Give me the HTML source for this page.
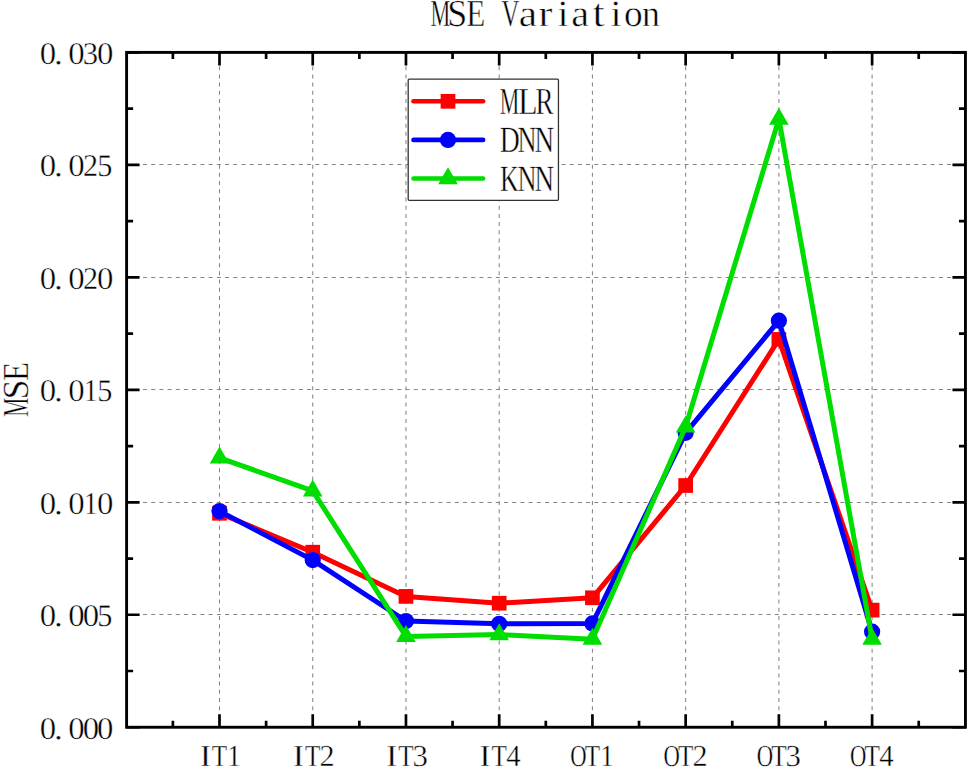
<!DOCTYPE html>
<html><head><meta charset="utf-8"><title>MSE Variation</title><style>html,body{margin:0;padding:0;background:#fff;overflow:hidden}svg{display:block;font-family:"Liberation Serif",serif}</style>
</head><body>
<svg width="969" height="769" viewBox="0 0 969 769">
<rect width="969" height="769" fill="#fff"/>
<g stroke="#858585" stroke-width="1.05" stroke-dasharray="4 4.205" fill="none"><line x1="219.50" y1="52.40" x2="219.50" y2="727.25" stroke-dashoffset="-5.6"/><line x1="312.73" y1="52.40" x2="312.73" y2="727.25" stroke-dashoffset="-5.6"/><line x1="405.96" y1="52.40" x2="405.96" y2="727.25" stroke-dashoffset="-5.6"/><line x1="499.19" y1="52.40" x2="499.19" y2="727.25" stroke-dashoffset="-5.6"/><line x1="592.42" y1="52.40" x2="592.42" y2="727.25" stroke-dashoffset="-5.6"/><line x1="685.65" y1="52.40" x2="685.65" y2="727.25" stroke-dashoffset="-5.6"/><line x1="778.88" y1="52.40" x2="778.88" y2="727.25" stroke-dashoffset="-5.6"/><line x1="872.11" y1="52.40" x2="872.11" y2="727.25" stroke-dashoffset="-5.6"/><line x1="126.60" y1="614.50" x2="965.45" y2="614.50" stroke-dashoffset="0"/><line x1="126.60" y1="502.50" x2="965.45" y2="502.50" stroke-dashoffset="0"/><line x1="126.60" y1="389.50" x2="965.45" y2="389.50" stroke-dashoffset="0"/><line x1="126.60" y1="277.50" x2="965.45" y2="277.50" stroke-dashoffset="0"/><line x1="126.60" y1="164.50" x2="965.45" y2="164.50" stroke-dashoffset="0"/></g>
<path d="M219.50,727.25V714.25M219.50,52.40V65.40M312.73,727.25V714.25M312.73,52.40V65.40M405.96,727.25V714.25M405.96,52.40V65.40M499.19,727.25V714.25M499.19,52.40V65.40M592.42,727.25V714.25M592.42,52.40V65.40M685.65,727.25V714.25M685.65,52.40V65.40M778.88,727.25V714.25M778.88,52.40V65.40M872.11,727.25V714.25M872.11,52.40V65.40M172.88,727.25V720.75M172.88,52.40V58.90M266.12,727.25V720.75M266.12,52.40V58.90M359.35,727.25V720.75M359.35,52.40V58.90M452.57,727.25V720.75M452.57,52.40V58.90M545.80,727.25V720.75M545.80,52.40V58.90M639.03,727.25V720.75M639.03,52.40V58.90M732.26,727.25V720.75M732.26,52.40V58.90M825.50,727.25V720.75M825.50,52.40V58.90M918.73,727.25V720.75M918.73,52.40V58.90M126.60,727.25H139.60M965.45,727.25H952.45M126.60,614.77H139.60M965.45,614.77H952.45M126.60,502.30H139.60M965.45,502.30H952.45M126.60,389.82H139.60M965.45,389.82H952.45M126.60,277.35H139.60M965.45,277.35H952.45M126.60,164.88H139.60M965.45,164.88H952.45M126.60,52.40H139.60M965.45,52.40H952.45M126.60,671.01H133.10M965.45,671.01H958.95M126.60,558.54H133.10M965.45,558.54H958.95M126.60,446.06H133.10M965.45,446.06H958.95M126.60,333.59H133.10M965.45,333.59H958.95M126.60,221.11H133.10M965.45,221.11H958.95M126.60,108.64H133.10M965.45,108.64H958.95" stroke="#000" stroke-width="2.7" fill="none"/>
<rect x="126.60" y="52.40" width="838.85" height="674.85" fill="none" stroke="#000" stroke-width="2.9"/>
<polyline points="219.50,513.30 312.73,552.20 405.96,596.40 499.19,603.20 592.42,597.80 685.65,485.50 778.88,339.40 872.11,610.10" fill="none" stroke="#ff0000" stroke-width="5" stroke-linejoin="round" stroke-linecap="round"/><rect x="212.15" y="505.95" width="14.70" height="14.70" fill="#ff0000"/><rect x="305.38" y="544.85" width="14.70" height="14.70" fill="#ff0000"/><rect x="398.61" y="589.05" width="14.70" height="14.70" fill="#ff0000"/><rect x="491.84" y="595.85" width="14.70" height="14.70" fill="#ff0000"/><rect x="585.07" y="590.45" width="14.70" height="14.70" fill="#ff0000"/><rect x="678.30" y="478.15" width="14.70" height="14.70" fill="#ff0000"/><rect x="771.53" y="332.05" width="14.70" height="14.70" fill="#ff0000"/><rect x="864.76" y="602.75" width="14.70" height="14.70" fill="#ff0000"/>
<polyline points="219.50,511.10 312.73,560.10 405.96,621.00 499.19,623.80 592.42,623.40 685.65,432.80 778.88,320.70 872.11,631.70" fill="none" stroke="#0000ff" stroke-width="5" stroke-linejoin="round" stroke-linecap="round"/><circle cx="219.50" cy="511.10" r="8.10" fill="#0000ff"/><circle cx="312.73" cy="560.10" r="8.10" fill="#0000ff"/><circle cx="405.96" cy="621.00" r="8.10" fill="#0000ff"/><circle cx="499.19" cy="623.80" r="8.10" fill="#0000ff"/><circle cx="592.42" cy="623.40" r="8.10" fill="#0000ff"/><circle cx="685.65" cy="432.80" r="8.10" fill="#0000ff"/><circle cx="778.88" cy="320.70" r="8.10" fill="#0000ff"/><circle cx="872.11" cy="631.70" r="8.10" fill="#0000ff"/>
<polyline points="219.50,457.80 312.73,490.90 405.96,636.40 499.19,634.60 592.42,639.20 685.65,426.80 778.88,119.00 872.11,639.20" fill="none" stroke="#00dd00" stroke-width="5" stroke-linejoin="round" stroke-linecap="round"/><path d="M219.50,446.47L229.30,463.47L209.70,463.47Z" fill="#00dd00"/><path d="M312.73,479.57L322.53,496.57L302.93,496.57Z" fill="#00dd00"/><path d="M405.96,625.07L415.76,642.07L396.16,642.07Z" fill="#00dd00"/><path d="M499.19,623.27L508.99,640.27L489.39,640.27Z" fill="#00dd00"/><path d="M592.42,627.87L602.22,644.87L582.62,644.87Z" fill="#00dd00"/><path d="M685.65,415.47L695.45,432.47L675.85,432.47Z" fill="#00dd00"/><path d="M778.88,107.67L788.68,124.67L769.08,124.67Z" fill="#00dd00"/><path d="M872.11,627.87L881.91,644.87L862.31,644.87Z" fill="#00dd00"/>
<rect x="408.2" y="79.05" width="150.25" height="121.3" fill="#fff" stroke="#333" stroke-width="1.3" rx="1"/>
<line x1="413.5" y1="101.3" x2="483.1" y2="101.3" stroke="#ff0000" stroke-width="4.6" stroke-linecap="round"/>
<rect x="440.65" y="93.95" width="14.70" height="14.70" fill="#ff0000"/>
<line x1="413.5" y1="139.9" x2="483.1" y2="139.9" stroke="#0000ff" stroke-width="4.6" stroke-linecap="round"/>
<circle cx="448.00" cy="139.90" r="8.10" fill="#0000ff"/>
<line x1="413.5" y1="178.5" x2="483.1" y2="178.5" stroke="#00dd00" stroke-width="4.6" stroke-linecap="round"/>
<path d="M448.00,167.17L457.80,184.17L438.20,184.17Z" fill="#00dd00"/>
<g font-family="Liberation Serif" font-size="100" text-rendering="geometricPrecision" fill="#000" stroke="#fff" stroke-width="1.3" style="vector-effect:non-scaling-stroke"><text transform="translate(39.75,738.60) scale(0.3280,0.3161)">0</text><text transform="translate(54.02,738.60) scale(0.3541,0.3161)">.</text><text transform="translate(68.35,738.60) scale(0.3280,0.3161)">0</text><text transform="translate(82.65,738.60) scale(0.3280,0.3161)">0</text><text transform="translate(96.95,738.60) scale(0.3280,0.3161)">0</text><text transform="translate(39.75,626.12) scale(0.3280,0.3161)">0</text><text transform="translate(54.02,626.12) scale(0.3541,0.3161)">.</text><text transform="translate(68.35,626.12) scale(0.3280,0.3161)">0</text><text transform="translate(82.65,626.12) scale(0.3280,0.3161)">0</text><text transform="translate(97.19,626.12) scale(0.3029,0.3161)">5</text><text transform="translate(39.75,513.65) scale(0.3280,0.3161)">0</text><text transform="translate(54.02,513.65) scale(0.3541,0.3161)">.</text><text transform="translate(68.35,513.65) scale(0.3280,0.3161)">0</text><text transform="translate(83.80,513.65) scale(0.2784,0.3161)">1</text><text transform="translate(96.95,513.65) scale(0.3280,0.3161)">0</text><text transform="translate(39.75,401.18) scale(0.3280,0.3161)">0</text><text transform="translate(54.02,401.18) scale(0.3541,0.3161)">.</text><text transform="translate(68.35,401.18) scale(0.3280,0.3161)">0</text><text transform="translate(83.80,401.18) scale(0.2784,0.3161)">1</text><text transform="translate(97.19,401.18) scale(0.3029,0.3161)">5</text><text transform="translate(39.75,288.70) scale(0.3280,0.3161)">0</text><text transform="translate(54.02,288.70) scale(0.3541,0.3161)">.</text><text transform="translate(68.35,288.70) scale(0.3280,0.3161)">0</text><text transform="translate(83.12,288.70) scale(0.3018,0.3161)">2</text><text transform="translate(96.95,288.70) scale(0.3280,0.3161)">0</text><text transform="translate(39.75,176.23) scale(0.3280,0.3161)">0</text><text transform="translate(54.02,176.23) scale(0.3541,0.3161)">.</text><text transform="translate(68.35,176.23) scale(0.3280,0.3161)">0</text><text transform="translate(83.12,176.23) scale(0.3018,0.3161)">2</text><text transform="translate(97.19,176.23) scale(0.3029,0.3161)">5</text><text transform="translate(39.75,63.75) scale(0.3280,0.3161)">0</text><text transform="translate(54.02,63.75) scale(0.3541,0.3161)">.</text><text transform="translate(68.35,63.75) scale(0.3280,0.3161)">0</text><text transform="translate(82.78,63.75) scale(0.3074,0.3161)">3</text><text transform="translate(96.95,63.75) scale(0.3280,0.3161)">0</text><text transform="translate(199.64,766.15) scale(0.3421,0.3054)">I</text><text transform="translate(211.80,766.15) scale(0.2517,0.3054)">T</text><text transform="translate(227.05,766.15) scale(0.2784,0.3054)">1</text><text transform="translate(292.87,766.15) scale(0.3421,0.3054)">I</text><text transform="translate(305.03,766.15) scale(0.2517,0.3054)">T</text><text transform="translate(319.60,766.15) scale(0.3018,0.3054)">2</text><text transform="translate(386.10,766.15) scale(0.3421,0.3054)">I</text><text transform="translate(398.26,766.15) scale(0.2517,0.3054)">T</text><text transform="translate(412.49,766.15) scale(0.3074,0.3054)">3</text><text transform="translate(479.33,766.15) scale(0.3421,0.3054)">I</text><text transform="translate(491.49,766.15) scale(0.2517,0.3054)">T</text><text transform="translate(506.23,766.15) scale(0.2883,0.3054)">4</text><text transform="translate(570.34,766.15) scale(0.2265,0.3054)">O</text><text transform="translate(584.72,766.15) scale(0.2517,0.3054)">T</text><text transform="translate(599.97,766.15) scale(0.2784,0.3054)">1</text><text transform="translate(663.57,766.15) scale(0.2265,0.3054)">O</text><text transform="translate(677.95,766.15) scale(0.2517,0.3054)">T</text><text transform="translate(692.52,766.15) scale(0.3018,0.3054)">2</text><text transform="translate(756.80,766.15) scale(0.2265,0.3054)">O</text><text transform="translate(771.18,766.15) scale(0.2517,0.3054)">T</text><text transform="translate(785.41,766.15) scale(0.3074,0.3054)">3</text><text transform="translate(850.03,766.15) scale(0.2265,0.3054)">O</text><text transform="translate(864.41,766.15) scale(0.2517,0.3054)">T</text><text transform="translate(879.15,766.15) scale(0.2883,0.3054)">4</text><text transform="translate(430.41,26.25) scale(0.2226,0.3833)">M</text><text transform="translate(447.35,26.25) scale(0.3581,0.3833)">S</text><text transform="translate(466.25,26.25) scale(0.3119,0.3833)">E</text><text transform="translate(501.57,26.25) scale(0.2458,0.3833)">V</text><text transform="translate(518.80,26.25) scale(0.4126,0.3751)">a</text><text transform="translate(538.40,26.25) scale(0.4183,0.3735)">r</text><text transform="translate(557.20,26.25) scale(0.4144,0.3700)">i</text><text transform="translate(571.23,26.25) scale(0.4025,0.3751)">a</text><text transform="translate(592.48,26.25) scale(0.4416,0.3943)">t</text><text transform="translate(610.15,26.25) scale(0.4144,0.3700)">i</text><text transform="translate(624.03,26.25) scale(0.3728,0.3778)">o</text><text transform="translate(642.03,26.25) scale(0.3572,0.3735)">n</text><text transform="translate(499.72,114.35) scale(0.2202,0.3833)">M</text><text transform="translate(518.02,114.35) scale(0.3219,0.3833)">L</text><text transform="translate(535.57,114.35) scale(0.2701,0.3833)">R</text><text transform="translate(499.85,152.45) scale(0.2770,0.3711)">D</text><text transform="translate(517.39,152.45) scale(0.2640,0.3711)">N</text><text transform="translate(534.47,152.45) scale(0.2715,0.3711)">N</text><text transform="translate(499.90,190.85) scale(0.2591,0.3711)">K</text><text transform="translate(517.39,190.85) scale(0.2640,0.3711)">N</text><text transform="translate(534.47,190.85) scale(0.2715,0.3711)">N</text></g>
<g transform="rotate(-90)" font-family="Liberation Serif" font-size="100" text-rendering="geometricPrecision" fill="#000" stroke="#fff" stroke-width="1.3" style="vector-effect:non-scaling-stroke"><text transform="translate(-416.77,28.35) scale(0.2154,0.3681)">M</text><text transform="translate(-399.45,28.35) scale(0.3581,0.3681)">S</text><text transform="translate(-381.05,28.35) scale(0.3119,0.3681)">E</text></g>
</svg>
</body></html>
